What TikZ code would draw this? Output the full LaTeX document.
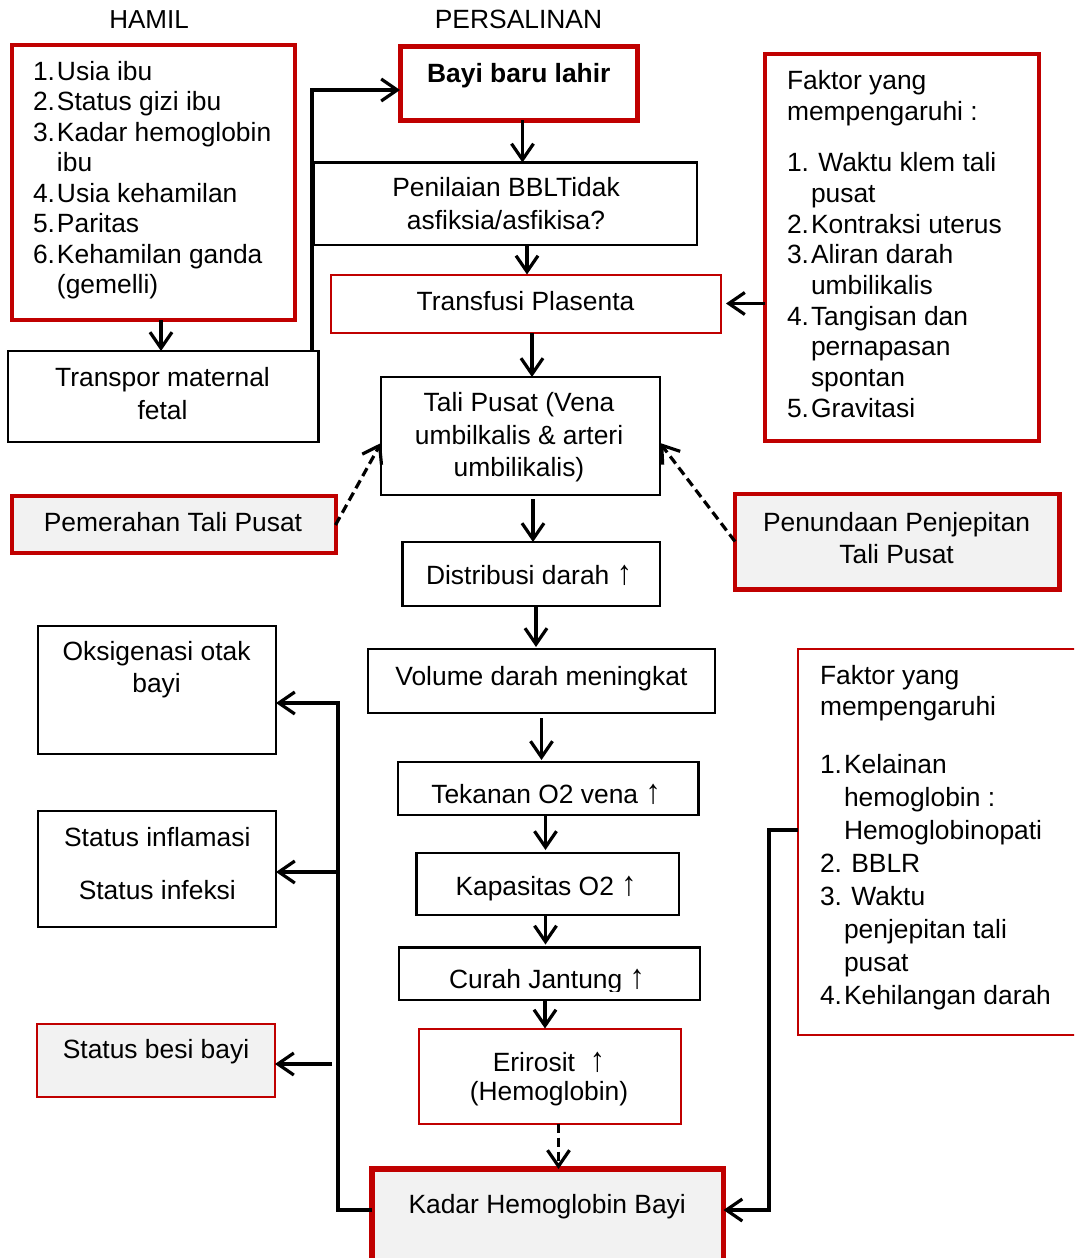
\documentclass[tikz,border=0pt]{standalone}
\usepackage{fontspec}
\usepackage{graphicx}
\setmainfont{Liberation Sans}
\usetikzlibrary{arrows.meta,fit}
\definecolor{dred}{HTML}{C00000}
\definecolor{lgray}{HTML}{F2F2F2}
\newcommand{\Tu}{\rule{0pt}{21pt}}
\newcommand{\nb}[1]{\makebox[24pt][l]{#1}}
\newcommand{\upar}{\scalebox{1.15}[1.3]{↑}}
\begin{document}
\begin{tikzpicture}[x=1pt,y=-1pt,
  every node/.style={inner sep=0pt, outer sep=0pt},
  box/.style={draw=black, line width=2.5pt},
  rbox/.style={draw=dred, line width=4pt},
  rthin/.style={draw=dred, line width=2pt},
  gfill/.style={fill=lgray},
  txt/.style={anchor=north, align=center, font=\fontsize{26.4}{32.5}\selectfont},
  ltxt/.style={anchor=north west, align=left},
  arr/.style={line width=3.2pt, line join=miter, -{Straight Barb[length=16pt,width=22pt]}},
  darr/.style={arr, dash pattern=on 9pt off 5pt},
]
\clip (0,0) rectangle (1074,1258);
\fill[white] (0,0) rectangle (1074,1258);

% ---------- boxes ----------
\node[rbox, fit={(11.5,44.5) (295,320)}] (hamil) {};
\node[box, fit={(8,351) (318.5,442)}] (transpor) {};
\node[rbox, line width=5pt, fit={(400,46.3) (637.5,120)}] (bayi) {};
\node[box, fit={(314,162.5) (697,245)}] (penilaian) {};
\node[rthin, fit={(330.5,274.5) (721,333)}] (transfusi) {};
\node[rbox, fit={(765,53.5) (1039,440.5)}] (faktor1) {};
\node[box, fit={(381,377) (660,495)}] (tali) {};
\node[rbox, gfill, fit={(11.5,495.5) (335.5,553)}] (pemerahan) {};
\node[rbox, gfill, line width=4.5pt, fit={(735,494) (1059.5,589.5)}] (penundaan) {};
\node[box, fit={(402.5,542) (660,606)}] (distribusi) {};
\node[box, fit={(368,649) (715,713)}] (volume) {};
\node[box, fit={(398,762) (698.5,815)}] (tekanan) {};
\node[box, fit={(416.5,853) (679,915)}] (kapasitas) {};
\node[box, fit={(399,947.5) (700,1000)}] (curah) {};
\node[rthin, fit={(419,1028.5) (681,1123.5)}] (eritrosit) {};
\node[rbox, gfill, line width=5.5pt, fit={(372,1169) (723.5,1268)}] (kadar) {};
\node[box, fit={(38,626) (276,754)}] (oksigenasi) {};
\node[box, fit={(38,811) (276,927)}] (statusinf) {};
\node[rthin, gfill, fit={(36.5,1024) (275,1097)}] (besi) {};
\node[rthin, fit={(798,648.5) (1090,1035)}] (faktor2) {};

% ---------- texts ----------
\node[txt, font=\fontsize{26}{30}\selectfont] (thamil) at (149,7) {\Tu HAMIL};
\node[txt] (tpers) at (518.5,7) {\Tu PERSALINAN};
\node[txt, font=\fontsize{26.4}{32}\bfseries] (tbayi) at (518.8,61.8) {\Tu Bayi baru lahir};
\node[txt, font=\fontsize{26.4}{32.6}\selectfont] (tpenilaian) at (506,175.7) {\Tu Penilaian BBLTidak\\asfiksia/asfikisa?};
\node[txt] (ttransfusi) at (525.5,289) {\Tu Transfusi Plasenta};
\node[ltxt, font=\fontsize{26.4}{30.5}\selectfont] (thamillist) at (33,59)
  {\Tu\nb{1.}Usia ibu\\\nb{2.}Status gizi ibu\\\nb{3.}Kadar hemoglobin\\\hspace*{24pt}ibu\\\nb{4.}Usia kehamilan\\\nb{5.}Paritas\\\nb{6.}Kehamilan ganda\\\hspace*{24pt}(gemelli)};
\node[txt, font=\fontsize{26.4}{32.3}\selectfont] (ttranspor) at (162.5,365.7) {\Tu Transpor maternal\\fetal};
\node[ltxt, font=\fontsize{26.4}{30.7}\selectfont] (tfaktor1) at (787,68.3)
  {\Tu Faktor yang\\mempengaruhi :\\[21pt]\nb{1.} Waktu klem tali\\\hspace*{24pt}pusat\\\nb{2.}Kontraksi uterus\\\nb{3.}Aliran darah\\\hspace*{24pt}umbilikalis\\\nb{4.}Tangisan dan\\\hspace*{24pt}pernapasan\\\hspace*{24pt}spontan\\\nb{5.}Gravitasi};
\node[txt] (ttali) at (519,390.7) {\Tu Tali Pusat (Vena\\umbilkalis \& arteri\\umbilikalis)};
\node[txt] (tpemerahan) at (173,510.7) {\Tu Pemerahan Tali Pusat};
\node[txt, font=\fontsize{26.4}{31.6}\selectfont] (tpenundaan) at (896.6,510.7) {\Tu Penundaan Penjepitan\\Tali Pusat};
\node[txt] (tdistribusi) at (529,563) {\Tu Distribusi darah \upar};
\node[txt] (tvolume) at (541.4,664) {\Tu Volume darah meningkat};
\node[txt, font=\fontsize{26.4}{32.7}\selectfont] (toksigenasi) at (156.6,639) {\Tu Oksigenasi otak\\bayi};
\node[txt] (ttekanan) at (546,782.3) {\Tu Tekanan O2 vena \upar};
\node[txt] (tstatusinf) at (157.3,825) {\Tu Status inflamasi\\[20.8pt]Status infeksi};
\node[txt] (tkapasitas) at (546,874) {\Tu Kapasitas O2 \upar};
\begin{scope}
  \clip (399,948) rectangle (700,991.5);
  \node[txt] (tcurah) at (547,967) {\Tu Curah Jantung \upar};
\end{scope}
\node[txt, font=\fontsize{26.4}{29.5}\selectfont] (teritrosit) at (549,1050) {\Tu Erirosit\hspace{15pt}\upar\\(Hemoglobin)};
\node[txt] (tbesi) at (156,1037.3) {\Tu Status besi bayi};
\node[txt] (tkadar) at (547.2,1192.3) {\Tu Kadar Hemoglobin Bayi};
\node[ltxt, font=\fontsize{26.4}{33}\selectfont] (tfaktor2) at (820,663)
  {\Tu Faktor yang\\[-1.3pt]mempengaruhi\\[25pt]\nb{1.}Kelainan\\\hspace*{24pt}hemoglobin :\\\hspace*{24pt}Hemoglobinopati\\\nb{2.} BBLR\\\nb{3.} Waktu\\\hspace*{24pt}penjepitan tali\\\hspace*{24pt}pusat\\\nb{4.}Kehilangan darah};

% ---------- connectors ----------
\coordinate (jtop) at (312,90);
\coordinate (jl1) at (338,703);
\coordinate (jl2) at (338,872);
\coordinate (jl3) at (332,1064);
\coordinate (jr) at (769,1210);

\draw[arr] (hamil.south -| 161,0) -- (transpor.north -| 161,0);
\draw[arr] (transpor.north -| jtop) -- (jtop) -- (bayi.west |- jtop);
\draw[arr] (bayi.south -| 522.5,0) -- (penilaian.north -| 522.5,0);
\draw[arr] (penilaian.south -| 527,0) -- (transfusi.north -| 527,0);
\draw[arr, shorten >=5pt] (faktor1.west |- 0,303.5) -- (transfusi.east |- 0,303.5);
\draw[arr] (transfusi.south -| 532,0) -- (tali.north -| 532,0);
\draw[darr] (pemerahan.east |- 0,525) -- (tali.west |- 0,443);
\draw[darr] (penundaan.west |- 0,541.5) -- (tali.east |- 0,443);
\draw[arr, shorten <=4pt] (tali.south -| 533,0) -- (distribusi.north -| 533,0);
\draw[arr, shorten >=2pt] (distribusi.south -| 536,0) -- (volume.north -| 536,0);
\draw[arr, shorten <=5pt, shorten >=2pt] (volume.south -| 541.5,0) -- (tekanan.north -| 541.5,0);
\draw[arr, shorten >=3pt] (tekanan.south -| 545.5,0) -- (kapasitas.north -| 545.5,0);
\draw[arr, shorten >=3pt] (kapasitas.south -| 545.5,0) -- (curah.north -| 545.5,0);
\draw[arr] (curah.south -| 545,0) -- (eritrosit.north -| 545,0);
\draw[darr] (eritrosit.south -| 558.5,0) -- (kadar.north -| 558.5,0);
\draw[arr] (kadar.west |- jr) -- (kadar.west |- jr -| jl1) -- (jl1) -- (oksigenasi.east |- jl1);
\draw[arr] (jl2) -- (statusinf.east |- jl2);
\draw[arr] (jl3) -- (besi.east |- jl3);
\draw[arr] (faktor2.west |- 0,830) -- (jr |- 0,830) -- (jr) -- (kadar.east |- jr);
\end{tikzpicture}
\end{document}
